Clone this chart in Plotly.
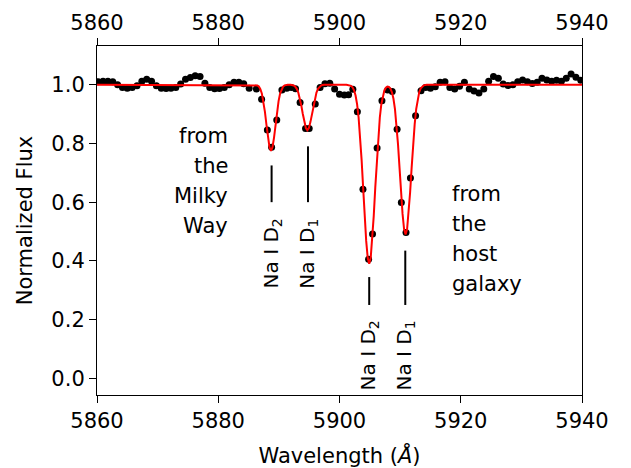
import plotly.graph_objects as go

# ---------------- data ----------------
wave_obs = [5860.2, 5861.0, 5861.8, 5862.6, 5863.4, 5864.2, 5865.0, 5865.8, 5866.6, 5867.4,
            5868.2, 5869.0, 5869.8, 5870.6, 5871.4, 5872.2, 5873.0, 5873.8, 5874.6, 5875.4,
            5876.2, 5877.0, 5877.8, 5878.6, 5879.4, 5880.2, 5881.0, 5881.8, 5882.6, 5883.4,
            5884.2, 5885.1, 5886.3, 5887.15, 5888.1, 5888.8, 5889.65, 5890.5, 5891.3, 5892.05,
            5892.75, 5893.5, 5894.4, 5895.0, 5896.0, 5896.8, 5897.6, 5898.4, 5899.2, 5900.0,
            5900.8, 5901.5, 5902.2, 5902.95, 5903.87, 5904.8, 5905.45, 5906.2, 5907.0, 5907.95,
            5908.7, 5909.5, 5910.2, 5910.97, 5911.7, 5912.55, 5913.45, 5914.2, 5915.0, 5915.8,
            5916.6, 5917.4, 5918.2, 5919.0, 5919.8, 5920.6, 5921.4, 5922.2, 5923.0, 5923.8,
            5924.6, 5925.4, 5926.2, 5927.0, 5927.8, 5928.6, 5929.4, 5930.2, 5931.0, 5931.8,
            5932.6, 5933.4, 5934.2, 5935.0, 5935.8, 5936.6, 5937.4, 5938.2, 5939.0, 5939.8]
flux_obs = [1.010, 1.012, 1.012, 1.010, 1.000, 0.990, 0.988, 0.990, 0.996, 1.012,
            1.018, 1.012, 0.996, 0.988, 0.987, 0.988, 0.990, 1.002, 1.018, 1.024,
            1.030, 1.028, 1.005, 0.990, 0.986, 0.987, 0.990, 1.000, 1.008, 1.008,
            1.003, 0.988, 0.985, 0.950, 0.846, 0.787, 0.880, 0.982, 0.988, 0.990,
            0.986, 0.939, 0.851, 0.851, 0.934, 0.990, 1.003, 1.005, 0.985, 0.967,
            0.965, 0.966, 0.984, 0.908, 0.644, 0.406, 0.492, 0.784, 0.945, 0.982,
            0.977, 0.848, 0.599, 0.497, 0.682, 0.894, 0.979, 0.990, 0.988, 0.993,
            1.008, 1.010, 0.990, 0.985, 0.995, 1.008, 0.985, 0.978, 0.972, 0.985,
            1.012, 1.028, 1.022, 1.002, 0.997, 1.000, 1.010, 1.016, 1.010, 1.004,
            1.008, 1.022, 1.016, 1.012, 1.015, 1.012, 1.022, 1.036, 1.025, 1.015]

wave_model = [5860.0, 5885.7,
              5885.95, 5886.2, 5886.45, 5886.7, 5886.95, 5887.2, 5887.45, 5887.7, 5887.95, 5888.2,
              5888.45, 5888.7, 5888.95, 5889.2, 5889.45, 5889.7, 5889.95, 5890.2, 5890.45, 5890.7,
              5890.95, 5891.2, 5891.45,
              5891.95, 5892.2, 5892.45, 5892.7, 5892.95, 5893.2, 5893.45, 5893.7, 5893.95, 5894.2,
              5894.45, 5894.7, 5894.95, 5895.2, 5895.45, 5895.7, 5895.95, 5896.2, 5896.45, 5896.7,
              5896.95, 5897.2, 5897.45,
              5901.15, 5901.4, 5901.65, 5901.9, 5902.15, 5902.4, 5902.65, 5902.9, 5903.15, 5903.4,
              5903.65, 5903.9, 5904.15, 5904.4, 5904.65, 5904.9, 5905.15, 5905.4, 5905.65, 5905.9,
              5906.15, 5906.4, 5906.65, 5906.9, 5907.15, 5907.4, 5907.65, 5907.9, 5908.15, 5908.4,
              5908.65, 5908.9, 5909.15, 5909.4, 5909.65, 5909.9, 5910.15, 5910.4, 5910.65, 5910.9,
              5911.15, 5911.4, 5911.65, 5911.9, 5912.15, 5912.4, 5912.65, 5912.9, 5913.15, 5913.4,
              5913.65, 5913.9, 5914.15, 5914.4, 5940.0]
flux_model = [1.0, 1.0,
              0.9997, 0.9991, 0.9975, 0.9936, 0.985, 0.9695, 0.944, 0.9075, 0.8635, 0.820,
              0.787, 0.775, 0.787, 0.820, 0.8635, 0.9075, 0.944, 0.9695, 0.985, 0.9936,
              0.9975, 0.9991, 0.9997,
              0.9996, 0.9988, 0.997, 0.9932, 0.9858, 0.9733, 0.9543, 0.929, 0.9001, 0.8725,
              0.8524, 0.845, 0.8524, 0.8725, 0.9001, 0.929, 0.9543, 0.9733, 0.9858, 0.9932,
              0.997, 0.9988, 0.9996,
              0.9998, 0.9993, 0.9983, 0.9958, 0.9908, 0.9809, 0.9631, 0.9335, 0.8882, 0.8246,
              0.7433, 0.6494, 0.5533, 0.4689, 0.4108, 0.390, 0.4108, 0.4689, 0.5533, 0.6494,
              0.7433, 0.8246, 0.8882, 0.9335, 0.963, 0.9805, 0.9898, 0.9933, 0.9924, 0.9866,
              0.9741, 0.952, 0.9165, 0.865, 0.7974, 0.7175, 0.6342, 0.560, 0.5085, 0.490,
              0.5085, 0.560, 0.6342, 0.7175, 0.7974, 0.865, 0.9165, 0.952, 0.9744, 0.9873,
              0.9942, 0.9975, 0.999, 0.9996, 1.0]

x_ticks = [5860, 5880, 5900, 5920, 5940]
y_ticks = [0.0, 0.2, 0.4, 0.6, 0.8, 1.0]

line_labels = ["Na I D<sub>2</sub>", "Na I D<sub>1</sub>", "Na I D<sub>2</sub>", "Na I D<sub>1</sub>"]
line_wave = [5888.8, 5894.8, 5904.9, 5910.85]
mark_top = [0.725, 0.79, 0.345, 0.435]
mark_bottom = [0.60, 0.60, 0.25, 0.25]
label_top = [0.55, 0.55, 0.205, 0.205]

mw_text = ["from", "the", "Milky", "Way"]
mw_y = [0.826, 0.723, 0.621, 0.519]
host_text = ["from", "the", "host", "galaxy"]
host_y = [0.628, 0.526, 0.424, 0.322]
mw_x = 5881.95
host_x = 5918.15

FONT = "DejaVu Sans"
FS = 21

fig = go.Figure()

fig.add_trace(go.Scatter(x=wave_obs, y=flux_obs, mode="markers",
                         marker=dict(color="black", size=7, line=dict(width=0)),
                         showlegend=False, hoverinfo="skip"))
# model drawn against the top axis (same fixed range) so that the top axis is rendered
fig.add_trace(go.Scatter(x=wave_model, y=flux_model, mode="lines", xaxis="x2", yaxis="y",
                         line=dict(color="#ff0000", width=2),
                         showlegend=False, hoverinfo="skip"))

# vertical identification marks
mx, my = [], []
for w, t, b in zip(line_wave, mark_top, mark_bottom):
    mx += [w, w, None]
    my += [t, b, None]
fig.add_trace(go.Scatter(x=mx, y=my, mode="lines", line=dict(color="black", width=2),
                         showlegend=False, hoverinfo="skip"))

annotations = []
for w, lab, yt in zip(line_wave, line_labels, label_top):
    annotations.append(dict(x=w, y=yt, xref="x", yref="y", text=lab, showarrow=False,
                            textangle=-90, xanchor="center", yanchor="top",
                            font=dict(family=FONT, size=20, color="black")))
for t, yy in zip(mw_text, mw_y):
    annotations.append(dict(x=mw_x, y=yy, xref="x", yref="y", text=t, showarrow=False,
                            xanchor="right", yanchor="middle",
                            font=dict(family=FONT, size=FS, color="black")))
for t, yy in zip(host_text, host_y):
    annotations.append(dict(x=host_x, y=yy, xref="x", yref="y", text=t, showarrow=False,
                            xanchor="left", yanchor="middle",
                            font=dict(family=FONT, size=FS, color="black")))

axis_common = dict(showgrid=False, zeroline=False, ticks="outside", ticklen=7, tickwidth=1.1,
                   tickcolor="black", tickfont=dict(family=FONT, size=FS, color="black"),
                   automargin=False)

fig.update_layout(
    width=631, height=468,
    margin=dict(l=97, r=49, t=46, b=73, pad=0),
    paper_bgcolor="white", plot_bgcolor="white",
    font=dict(family=FONT, size=FS, color="black"),
    annotations=annotations,
    xaxis=dict(range=[5860, 5940], tickvals=x_ticks, ticktext=[str(v) for v in x_ticks],
               showline=True, linecolor="black", linewidth=1.1, mirror=True,
               title=dict(text="Wavelength (<i>Å</i>)", font=dict(family=FONT, size=FS), standoff=18),
               **axis_common),
    xaxis2=dict(range=[5860, 5940], tickvals=x_ticks, ticktext=[str(v) for v in x_ticks],
                overlaying="x", side="top", anchor="y", showline=False, **axis_common),
    yaxis=dict(range=[-0.0565, 1.1316], tickvals=y_ticks, ticktext=[f"{v:.1f}" for v in y_ticks],
               showline=True, linecolor="black", linewidth=1.1, mirror=True,
               title=dict(text="Normalized Flux", font=dict(family=FONT, size=FS), standoff=12),
               **axis_common),
)

fig.write_html("out.html")
